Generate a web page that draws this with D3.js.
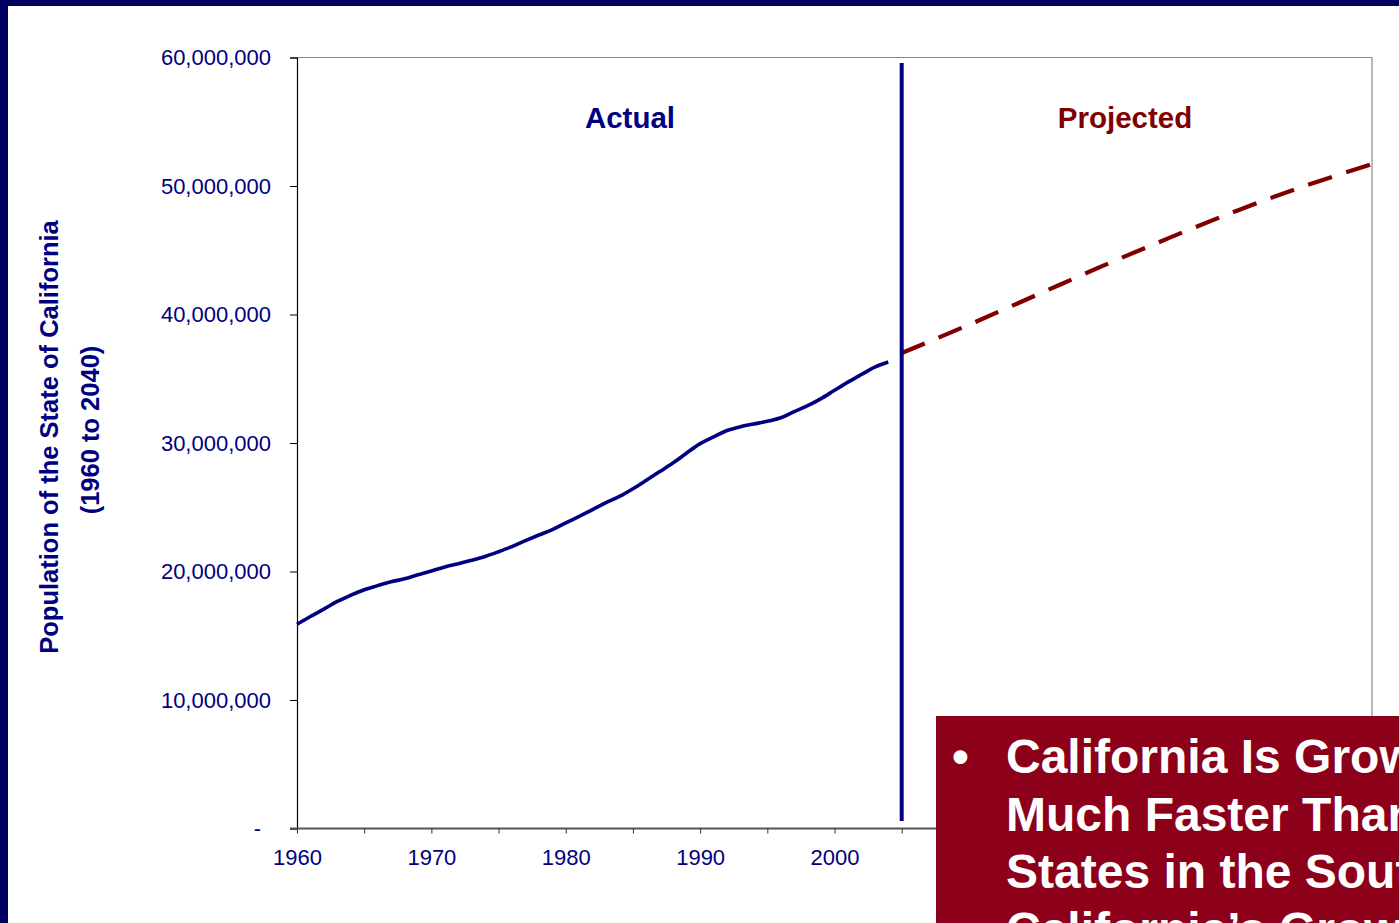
<!DOCTYPE html>
<html>
<head>
<meta charset="utf-8">
<script src="https://cdn.jsdelivr.net/npm/d3@7"></script>
<style>
  html, body { margin: 0; padding: 0; background: #fff; overflow: hidden; }
  svg { display: block; font-family: Arial, "Liberation Sans", Helvetica, sans-serif; }
</style>
</head>
<body>
<svg id="chart" width="1399" height="923"></svg>
<script>
// ---- data ----
const actualYears = [1960,1961,1962,1963,1964,1965,1966,1967,1968,1969,
  1970,1971,1972,1973,1974,1975,1976,1977,1978,1979,
  1980,1981,1982,1983,1984,1985,1986,1987,1988,1989,
  1990,1991,1992,1993,1994,1995,1996,1997,1998,1999,
  2000,2001,2002,2003,2004];
const actualPop = [15.9,16.5,17.07,17.67,18.15,18.58,18.9,19.2,19.43,19.75,
  20.04,20.35,20.6,20.87,21.17,21.54,21.94,22.4,22.84,23.26,
  23.78,24.29,24.82,25.36,25.84,26.44,27.1,27.78,28.46,29.22,
  29.95,30.47,30.97,31.27,31.48,31.69,31.96,32.45,32.9,33.45,
  34.1,34.74,35.33,35.9,36.3].map(v => v * 1e6);
const projYears = [2005,2010,2015,2020,2025,2030,2035,2040];
const projPop = [37.0,39.2,41.5,43.8,46.0,48.1,50.0,51.7].map(v => v * 1e6);
const yTicks = [0,10e6,20e6,30e6,40e6,50e6,60e6];
const xMinorTicks = [1960,1965,1970,1975,1980,1985,1990,1995,2000,2005,2010,2015,2020,2025,2030,2035,2040];
const xLabelTicks = [1960,1970,1980,1990,2000];
const dividerYear = 2005;
const yTitleLines = ["Population of the State of California", "(1960 to 2040)"];
const sectionLabels = ["Actual", "Projected"];
const boxLines = [
  {bullet: true,  text: "California Is Growing"},
  {bullet: false, text: "Much Faster Than Other"},
  {bullet: false, text: "States in the Southwest"},
  {bullet: true,  text: "California\u2019s Growth"}
];

// ---- layout ----
const svg = d3.select("#chart");
const W = 1399, H = 923;
const L = 297, R = 1372, T = 57.5, B = 828.5;
const navy = "#000080", maroon = "#800000";

const x = d3.scaleLinear().domain([1960, 2040]).range([L, R]);
const y = d3.scaleLinear().domain([0, 60e6]).range([B, T]);

// background + frame
svg.append("rect").attr("width", W).attr("height", H).attr("fill", "#fff");
svg.append("rect").attr("x", 0).attr("y", 0).attr("width", W).attr("height", 6).attr("fill", "#000062");
svg.append("rect").attr("x", 0).attr("y", 0).attr("width", 8).attr("height", H).attr("fill", "#000062");

// plot border (top and right in gray)
svg.append("path")
  .attr("d", `M${L},${T}H${R}V${B}`)
  .attr("fill", "none").attr("stroke", "#8a8a8a").attr("stroke-width", 1.2);

// y axis
const yAxis = d3.axisLeft(y).tickValues(yTicks).tickSize(7).tickPadding(19)
  .tickFormat(d => d === 0 ? "-" : d3.format(",")(d));
const gy = svg.append("g").attr("transform", `translate(${L},0)`).call(yAxis);
gy.select(".domain").attr("stroke", "#000").attr("stroke-width", 1.2);
gy.selectAll(".tick line").attr("stroke", "#000");
gy.selectAll(".tick text").attr("fill", navy).style("font-size", "22px")
  .attr("dx", d => d === 0 ? -10 : 0);

// x axis
const xAxis = d3.axisBottom(x).tickValues(xMinorTicks).tickSize(5).tickFormat("");
const gx = svg.append("g").attr("transform", `translate(0,${B})`).call(xAxis);
gx.select(".domain").attr("stroke", "#555").attr("stroke-width", 2).attr("d", `M${L-7},0H${R}`);
gx.selectAll(".tick line").attr("stroke", "#333");
const xLab = d3.axisBottom(x).tickValues(xLabelTicks).tickSize(0).tickPadding(21).tickFormat(d3.format("d"));
const gx2 = svg.append("g").attr("transform", `translate(0,${B})`).call(xLab);
gx2.select(".domain").remove();
gx2.selectAll(".tick text").attr("fill", navy).style("font-size", "22px");

// y title
[{c: 437, b: 58}, {c: 430, b: 99}].forEach((p, i) => {
  svg.append("text").attr("transform", `translate(${p.b},${p.c}) rotate(-90)`)
    .attr("text-anchor", "middle").attr("fill", navy)
    .style("font-size", "25.5px").style("font-weight", "bold").text(yTitleLines[i]);
});

// section labels
svg.append("text").attr("x", 630).attr("y", 128).attr("text-anchor", "middle")
  .attr("fill", navy).style("font-size", "29.5px").style("font-weight", "bold").text(sectionLabels[0]);
svg.append("text").attr("x", 1125).attr("y", 128).attr("text-anchor", "middle")
  .attr("fill", maroon).style("font-size", "29.5px").style("font-weight", "bold").text(sectionLabels[1]);

// lines
const lineA = d3.line().x((d, i) => x(actualYears[i])).y(d => y(d)).curve(d3.curveMonotoneX);
svg.append("path").datum(actualPop).attr("d", lineA)
  .attr("fill", "none").attr("stroke", navy).attr("stroke-width", 3.6).attr("stroke-linejoin", "round");

const lineP = d3.line().x((d, i) => x(projYears[i])).y(d => y(d)).curve(d3.curveMonotoneX);
svg.append("path").datum(projPop).attr("d", lineP)
  .attr("fill", "none").attr("stroke", maroon).attr("stroke-width", 4.2)
  .attr("stroke-dasharray", "25,15");

// divider
svg.append("line").attr("x1", x(dividerYear)).attr("x2", x(dividerYear))
  .attr("y1", 63).attr("y2", 821).attr("stroke", navy).attr("stroke-width", 4);

// red text box
svg.append("rect").attr("x", 936).attr("y", 716).attr("width", 470).attr("height", 210).attr("fill", "#8C0019");
const bx = svg.append("g").style("font-size", "48px").style("font-weight", "bold").attr("fill", "#fff");
boxLines.forEach((l, i) => {
  const by = 773 + i * 57.5;
  if (l.bullet) bx.append("text").attr("x", 952).attr("y", by).text("\u2022");
  bx.append("text").attr("x", 1006).attr("y", by).text(l.text);
});
</script>
</body>
</html>
